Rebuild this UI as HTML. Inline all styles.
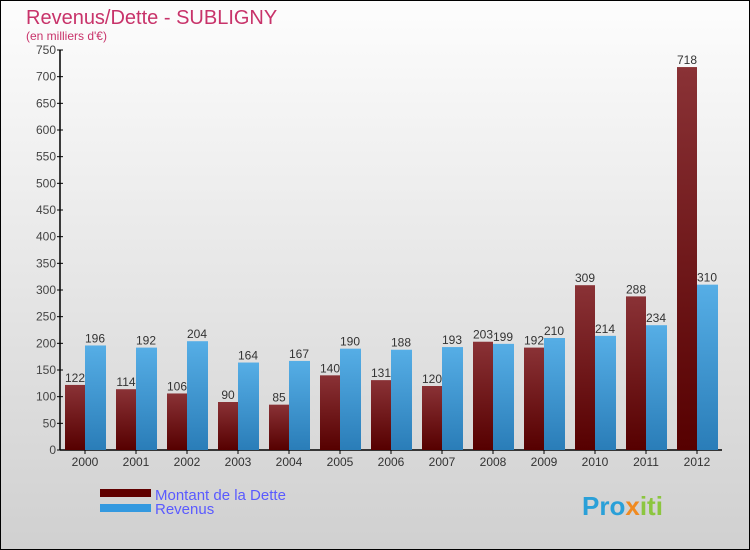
<!DOCTYPE html>
<html><head><meta charset="utf-8"><style>
body{margin:0}
svg{display:block;font-family:"Liberation Sans",sans-serif}
</style></head><body>
<svg id="c" width="750" height="550" xmlns="http://www.w3.org/2000/svg">
<defs>
<linearGradient id="bg" x1="0" y1="0" x2="0" y2="1"><stop offset="0" stop-color="#fdfdfd"/><stop offset="1" stop-color="#d0d0d0"/></linearGradient>
<linearGradient id="gd" x1="0" y1="0" x2="0" y2="1"><stop offset="0" stop-color="#8a3236"/><stop offset="1" stop-color="#560000"/></linearGradient>
<linearGradient id="gr" x1="0" y1="0" x2="0" y2="1"><stop offset="0" stop-color="#56aee6"/><stop offset="1" stop-color="#2a7db8"/></linearGradient>
</defs>
<rect x="0.5" y="0.5" width="749" height="549" fill="url(#bg)" stroke="#000"/>
<text x="26" y="24" font-size="20" fill="#c8336a">Revenus/Dette - SUBLIGNY</text>
<text x="26" y="40" font-size="12" fill="#c8336a">(en milliers d'€)</text>
<g id="axes"></g><g id="bars"></g>
<g>
<rect x="100" y="489" width="51" height="8" fill="#600000"/>
<text x="155" y="500" font-size="15" fill="#5a5aff">Montant de la Dette</text>
<rect x="100" y="504" width="51" height="8" fill="#3399e0"/>
<text x="155" y="514" font-size="15" fill="#5a5aff">Revenus</text>
</g>
<text x="582" y="515" font-size="26" font-weight="bold" fill="#2aa0d8">Pro<tspan fill="#f08a20">x</tspan><tspan fill="#8cc63f">iti</tspan></text>
</svg>
<script>
const years=["2000","2001","2002","2003","2004","2005","2006","2007","2008","2009","2010","2011","2012"];
const dette=[122,114,106,90,85,140,131,120,203,192,309,288,718];
const revenus=[196,192,204,164,167,190,188,193,199,210,214,234,310];
const yTicks=[0,50,100,150,200,250,300,350,400,450,500,550,600,650,700,750];
const NS="http://www.w3.org/2000/svg";
const y0=450,yTop=50,yMax=750,x0=60,step=51,first=85;
const Y=v=>y0-(v/yMax)*(y0-yTop);
const X=i=>first+i*step;
function mk(t,a,p){const e=document.createElementNS(NS,t);for(const k in a)e.setAttribute(k,a[k]);p.appendChild(e);return e;}
const ax=document.getElementById('axes'),bg=document.getElementById('bars');
const yl=mk('line',{x1:x0,y1:yTop,x2:x0,y2:y0,stroke:'#000','stroke-width':1.5},ax);


const xl=mk('line',{x1:x0,y1:y0,x2:722,y2:y0,stroke:'#000','stroke-width':1.5},ax);


yTicks.forEach(v=>{
 mk('line',{x1:x0-3,x2:x0+3,y1:Y(v),y2:Y(v),stroke:'#000'},ax);
 const t=mk('text',{x:x0-4,y:Y(v)+4,'text-anchor':'end','font-size':12,fill:'#444'},ax);
 t.textContent=v;
 
 
});
years.forEach((yr,i)=>{
 const c=X(i);
 mk('line',{x1:c,x2:c,y1:y0,y2:y0+4,stroke:'#000'},ax);
 const t=mk('text',{x:c,y:y0+16,'text-anchor':'middle','font-size':12,fill:'#333'},ax);
 t.textContent=yr;
 
 
 const b1=mk('rect',{x:c-20,y:Y(dette[i]),width:20,height:y0-Y(dette[i]),fill:'url(#gd)'},bg);
 
 
 const b2=mk('rect',{x:c,y:Y(revenus[i]),width:21,height:y0-Y(revenus[i]),fill:'url(#gr)'},bg);
 
 
 const l1=mk('text',{x:c-10,y:Y(dette[i])-3,'text-anchor':'middle','font-size':12,fill:'#333'},bg);
 l1.textContent=dette[i];
 
 
 const l2=mk('text',{x:c+10,y:Y(revenus[i])-3,'text-anchor':'middle','font-size':12,fill:'#333'},bg);
 l2.textContent=revenus[i];
 
 
});
</script>
</body></html>
